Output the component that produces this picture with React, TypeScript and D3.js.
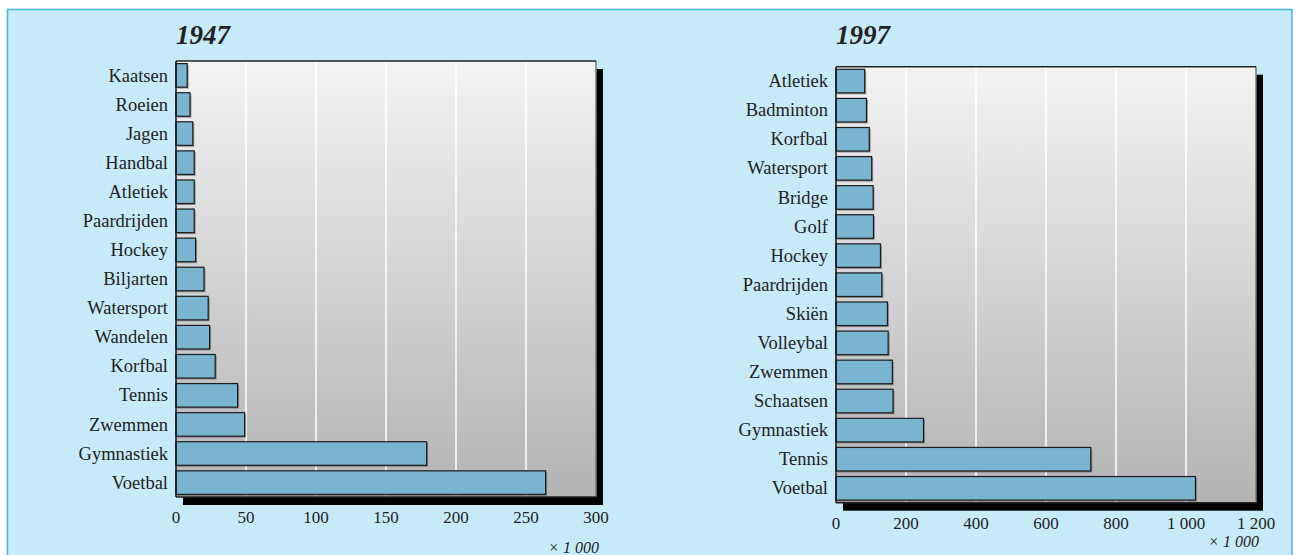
import React from "react";
import * as d3 from "d3";

const categories1947 = ["Kaatsen","Roeien","Jagen","Handbal","Atletiek","Paardrijden","Hockey","Biljarten","Watersport","Wandelen","Korfbal","Tennis","Zwemmen","Gymnastiek","Voetbal"];
const values1947 = [8,10,12,13,13,13,14,20,23,24,28,44,49,179,264];
const ticks1947 = [0,50,100,150,200,250,300];
const tickLabels1947 = ["0","50","100","150","200","250","300"];

const categories1997 = ["Atletiek","Badminton","Korfbal","Watersport","Bridge","Golf","Hockey","Paardrijden","Skiën","Volleybal","Zwemmen","Schaatsen","Gymnastiek","Tennis","Voetbal"];
const values1997 = [82,87,95,102,106,107,127,131,147,149,161,163,250,728,1027];
const ticks1997 = [0,200,400,600,800,1000,1200];
const tickLabels1997 = ["0","200","400","600","800","1 000","1 200"];

const unitLabel = "× 1 000";

const SERIF = "'Liberation Serif', 'Times New Roman', serif";

type PanelProps = {
  id: string;
  title: string;
  cats: string[];
  vals: number[];
  ticks: number[];
  tickLabels: string[];
  x0: number; x1: number; y0: number; y1: number;
  unitY: number;
};

function Panel(p: PanelProps) {
  const x = d3.scaleLinear().domain([p.ticks[0], p.ticks[p.ticks.length - 1]]).range([p.x0, p.x1]);
  const y = d3.scaleBand<string>().domain(p.cats).range([p.y0, p.y1]).paddingInner(0.19).paddingOuter(0.09);
  const gid = "grad" + p.id;
  const w = p.x1 - p.x0;
  const h = p.y1 - p.y0;
  return (
    <g>
      <defs>
        <linearGradient id={gid} x1="0" y1="0" x2="0" y2="1">
          <stop offset="0" stopColor="#f3f3f3" />
          <stop offset="1" stopColor="#b3b3b3" />
        </linearGradient>
      </defs>
      <text x={p.x0} y={44} fontFamily={SERIF} fontWeight="bold" fontStyle="italic" fontSize={27} fill="#222">{p.title}</text>
      <rect x={p.x0 + 7} y={p.y0 + 8} width={w} height={h} fill="#000" />
      <rect x={p.x0} y={p.y0} width={w} height={h} fill={`url(#${gid})`} />
      {p.ticks.slice(1, -1).map((t) => (
        <line key={t} x1={x(t)} x2={x(t)} y1={p.y0} y2={p.y1} stroke="#fff" strokeWidth={1.5} />
      ))}
      <line x1={p.x1} x2={p.x1} y1={p.y0} y2={p.y1} stroke="#777" strokeWidth={1.5} />
      <line x1={p.x0} x2={p.x1} y1={p.y0} y2={p.y0} stroke="#222" strokeWidth={1.5} />
      <line x1={p.x0} x2={p.x1} y1={p.y1} y2={p.y1} stroke="#222" strokeWidth={1.5} />
      {p.cats.map((c, i) => (
        <g key={c}>
          <rect x={x(0) + 1.5} y={(y(c) as number) + 1.5} width={x(p.vals[i]) - x(0)} height={y.bandwidth()} fill="#555" opacity={0.55} />
          <rect x={x(0)} y={y(c)} width={x(p.vals[i]) - x(0)} height={y.bandwidth()} fill="#79b4d1" stroke="#1c1c1c" strokeWidth={1.2} />
          <text x={p.x0 - 8} y={(y(c) as number) + y.bandwidth() / 2} dy="0.33em" textAnchor="end" fontFamily={SERIF} fontSize={18.5} fill="#222">{c}</text>
        </g>
      ))}
      <line x1={p.x0} x2={p.x0} y1={p.y0} y2={p.y1} stroke="#111" strokeWidth={1.5} />
      {p.ticks.map((t, i) => (
        <text key={t} x={x(t)} y={p.y1 + 26} textAnchor="middle" fontFamily={SERIF} fontSize={17} fill="#222">{p.tickLabels[i]}</text>
      ))}
      <text x={p.x1 + 3} y={p.unitY} textAnchor="end" fontFamily={SERIF} fontStyle="italic" fontSize={16} fill="#222">{unitLabel}</text>
    </g>
  );
}

export default function App() {
  return (
    <svg width={1298} height={555} style={{ position: "absolute", left: 0, top: 0 }}>
      <rect x={0} y={0} width={1298} height={555} fill="#fff" />
      <rect x={7.5} y={9.5} width={1284.5} height={560} fill="#c7eaf9" stroke="#45b3e4" strokeWidth={1.5} />
      <Panel id="a" title="1947" cats={categories1947} vals={values1947} ticks={ticks1947} tickLabels={tickLabels1947}
        x0={176} x1={596} y0={61} y1={497} unitY={553} />
      <Panel id="b" title="1997" cats={categories1997} vals={values1997} ticks={ticks1997} tickLabels={tickLabels1997}
        x0={836} x1={1256} y0={66.7} y1={502.7} unitY={547} />
    </svg>
  );
}
